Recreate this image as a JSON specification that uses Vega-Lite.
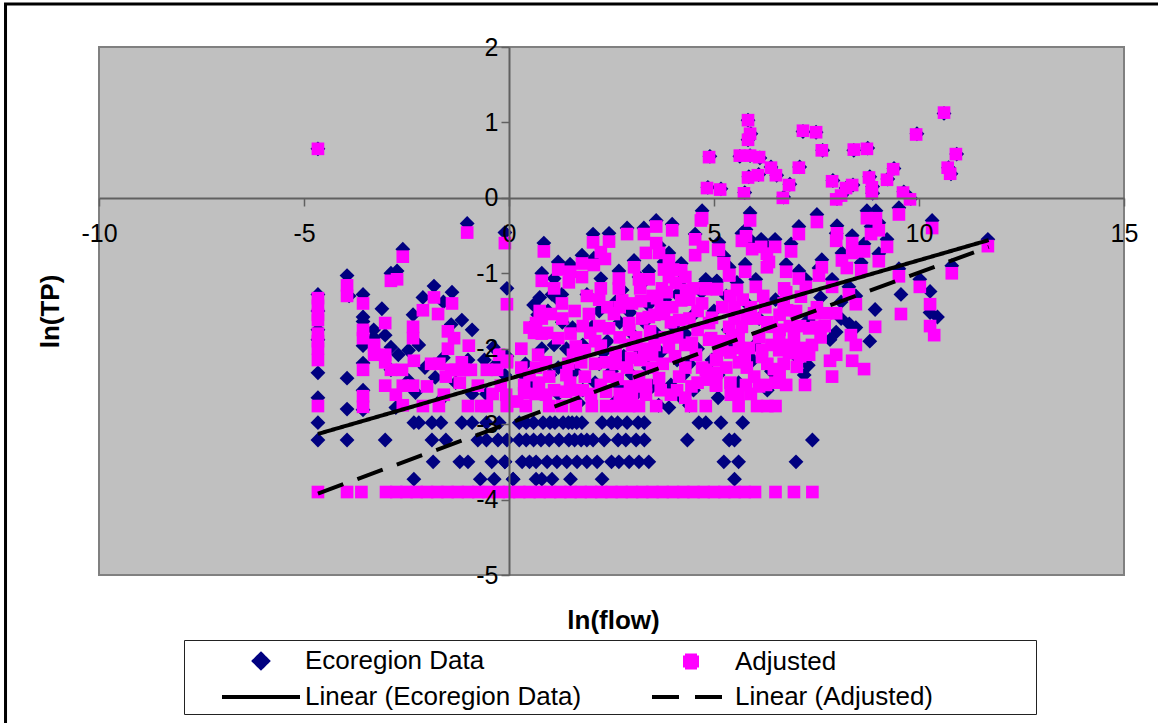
{
"$schema":"https://vega.github.io/schema/vega-lite/v6.json",
"width":1025,"height":528,
"autosize":"none",
"padding":{"left":99,"top":47,"right":34,"bottom":148},
"background":"white",
"config":{"font":"Liberation Sans","view":{"fill":"#C0C0C0","stroke":"#808080","strokeWidth":2}},
"datasets":{
"frame":[{"x1":-12.28,"x2":17,"y1":2.57,"y2":-8}],
"fit":[
{"series":"Linear (Ecoregion Data)","x":-4.66,"y":-3.13},{"series":"Linear (Ecoregion Data)","x":11.7,"y":-0.56},
{"series":"Linear (Adjusted)","x":-4.66,"y":-3.92},{"series":"Linear (Adjusted)","x":11.7,"y":-0.65}],
"eco":[
{"x":-4.66,"y":-1.28},{"x":-4.66,"y":-1.5},{"x":-4.66,"y":-1.75},{"x":-4.66,"y":-1.88},{"x":-4.66,"y":-2.32},{"x":-4.66,"y":-2.65},{"x":-4.66,"y":-2.98},{"x":-4.66,"y":-3.21},{"x":-4.66,"y":0.65},
{"x":-3.95,"y":-1.03},{"x":-3.9,"y":-1.3},{"x":-3.95,"y":-2.39},{"x":-3.95,"y":-2.8},{"x":-3.95,"y":-3.21},
{"x":-3.56,"y":-1.28},{"x":-3.56,"y":-1.58},{"x":-3.56,"y":-1.64},{"x":-3.56,"y":-1.96},{"x":-3.56,"y":-2.19},{"x":-3.56,"y":-2.55},{"x":-3.56,"y":-2.81},
{"x":-3.3,"y":-1.75},{"x":-3.3,"y":-1.85},{"x":-3.1,"y":-1.47},{"x":-3.02,"y":-1.82},{"x":-2.88,"y":-1.98},{"x":-2.7,"y":-2.08},{"x":-2.88,"y":-2.28},{"x":-2.45,"y":-2.02},
{"x":-2.59,"y":-0.68},{"x":-2.73,"y":-0.97},{"x":-2.88,"y":-1.0},{"x":-2.45,"y":-2.42},{"x":-2.34,"y":-1.55},{"x":-2.2,"y":-1.95},{"x":-2.05,"y":-2.25},{"x":-2.28,"y":-2.58},{"x":-2.76,"y":-2.78},
{"x":-2.32,"y":-2.98},{"x":-2.2,"y":-2.98},{"x":-1.88,"y":-2.98},{"x":-1.66,"y":-2.98},{"x":-1.15,"y":-2.98},{"x":-0.9,"y":-2.98},{"x":-0.55,"y":-2.98},{"x":-0.24,"y":-2.98},
{"x":-3.02,"y":-3.21},{"x":-1.88,"y":-3.21},{"x":-1.54,"y":-3.21},{"x":-0.76,"y":-3.21},{"x":-0.55,"y":-3.21},{"x":-0.27,"y":-3.21},{"x":-0.05,"y":-3.21},
{"x":-1.85,"y":-3.5},{"x":-1.2,"y":-3.5},{"x":-1.0,"y":-3.5},{"x":-0.42,"y":-3.5},{"x":-0.1,"y":-3.5},{"x":-2.32,"y":-3.73},{"x":-0.7,"y":-3.73},{"x":-0.36,"y":-3.73},{"x":0.1,"y":-3.73},
{"x":-1.83,"y":-1.17},{"x":-1.39,"y":-1.25},{"x":-2.1,"y":-1.32},{"x":-1.6,"y":-1.38},{"x":-1.15,"y":-1.62},{"x":-1.41,"y":-1.68},{"x":-0.9,"y":-1.75},{"x":-0.38,"y":-1.98},{"x":-0.05,"y":-2.1},{"x":-0.6,"y":-2.15},{"x":-1.6,"y":-2.12},{"x":-1.8,"y":-2.38},{"x":-1.0,"y":-2.15},{"x":-0.3,"y":-2.2},{"x":-1.3,"y":-2.45},{"x":-0.9,"y":-2.6},{"x":-0.55,"y":-2.6},{"x":-0.1,"y":-2.35},{"x":-1.7,"y":-2.7},
{"x":-1.02,"y":-0.34},{"x":-0.1,"y":-0.46},{"x":-0.05,"y":-1.2},
{"x":0.25,"y":-2.98},{"x":0.42,"y":-2.98},{"x":0.6,"y":-2.98},{"x":0.83,"y":-2.98},{"x":1.0,"y":-2.98},{"x":1.12,"y":-2.98},{"x":1.32,"y":-2.98},{"x":1.45,"y":-2.98},{"x":1.54,"y":-2.98},{"x":1.65,"y":-2.98},{"x":1.78,"y":-2.98},{"x":2.27,"y":-2.98},{"x":2.5,"y":-2.98},{"x":2.65,"y":-2.98},{"x":2.88,"y":-2.98},{"x":3.15,"y":-2.98},{"x":3.3,"y":-2.98},{"x":4.63,"y":-2.98},{"x":4.8,"y":-2.98},{"x":5.17,"y":-2.98},
{"x":0.25,"y":-3.21},{"x":0.42,"y":-3.21},{"x":0.78,"y":-3.21},{"x":0.98,"y":-3.21},{"x":1.22,"y":-3.21},{"x":1.46,"y":-3.21},{"x":1.76,"y":-3.21},{"x":2.05,"y":-3.21},{"x":2.32,"y":-3.21},{"x":2.66,"y":-3.21},{"x":2.85,"y":-3.21},{"x":3.1,"y":-3.21},{"x":3.3,"y":-3.21},{"x":4.35,"y":-3.21},{"x":5.37,"y":-3.21},{"x":0.6,"y":-3.21},{"x":1.6,"y":-3.21},{"x":1.9,"y":-3.21},{"x":5.5,"y":-3.21},
{"x":-0.1,"y":-3.5},{"x":0.32,"y":-3.5},{"x":0.5,"y":-3.5},{"x":0.66,"y":-3.5},{"x":0.93,"y":-3.5},{"x":1.17,"y":-3.5},{"x":1.41,"y":-3.5},{"x":1.66,"y":-3.5},{"x":1.9,"y":-3.5},{"x":2.15,"y":-3.5},{"x":2.5,"y":-3.5},{"x":2.68,"y":-3.5},{"x":2.93,"y":-3.5},{"x":3.17,"y":-3.5},{"x":3.41,"y":-3.5},{"x":5.24,"y":-3.5},{"x":5.6,"y":-3.5},{"x":7.0,"y":-3.5},
{"x":0.1,"y":-3.73},{"x":0.66,"y":-3.73},{"x":0.8,"y":-3.73},{"x":1.05,"y":-3.73},{"x":1.5,"y":-3.73},{"x":2.27,"y":-3.73},{"x":5.5,"y":-3.73},{"x":7.4,"y":-3.21},{"x":5.7,"y":-2.98},
{"x":0.85,"y":-0.6},{"x":2.05,"y":-0.48},{"x":2.44,"y":-0.47},{"x":1.78,"y":-0.76},{"x":2.07,"y":-0.8},{"x":1.2,"y":-0.85},{"x":1.49,"y":-0.88},{"x":0.8,"y":-1.0},{"x":1.1,"y":-1.07},{"x":2.24,"y":-1.07},{"x":2.68,"y":-0.97},{"x":3.05,"y":-0.83},{"x":3.59,"y":-0.3},{"x":3.98,"y":-0.35},{"x":2.88,"y":-0.4},{"x":3.29,"y":-0.4},{"x":4.54,"y":-0.48},{"x":3.66,"y":-0.63},{"x":3.9,"y":-0.73},{"x":4.2,"y":-0.87},{"x":3.41,"y":-0.97},{"x":3.17,"y":-1.05},{"x":4.8,"y":-1.08},{"x":5.07,"y":-1.1},{"x":3.78,"y":-0.85},
{"x":0.75,"y":-1.32},{"x":0.6,"y":-1.42},{"x":1.05,"y":-1.28},{"x":1.2,"y":-1.35},{"x":1.29,"y":-1.28},{"x":0.95,"y":-1.5},{"x":0.7,"y":-1.55},{"x":1.3,"y":-1.65},{"x":0.6,"y":-1.68},{"x":0.4,"y":-2.2},{"x":0.35,"y":-2.35},{"x":1.1,"y":-1.95},{"x":1.2,"y":-2.25},{"x":1.55,"y":-1.72},{"x":1.9,"y":-1.28},{"x":2.6,"y":-1.38},{"x":2.76,"y":-1.22},{"x":3.22,"y":-1.15},{"x":2.95,"y":-1.52},{"x":3.0,"y":-1.8},{"x":3.4,"y":-1.42},{"x":4.1,"y":-1.28},{"x":4.7,"y":-1.25},{"x":4.3,"y":-1.8},{"x":2.3,"y":-2.05},{"x":2.2,"y":-2.2},{"x":2.5,"y":-2.3},{"x":2.1,"y":-2.45},{"x":1.6,"y":-2.3},{"x":1.2,"y":-2.6},{"x":1.7,"y":-2.72},{"x":3.2,"y":-2.05},{"x":3.4,"y":-2.25},{"x":3.7,"y":-2.05},{"x":4.1,"y":-2.15},{"x":4.25,"y":-2.35},{"x":4.4,"y":-2.2},{"x":3.95,"y":-2.48},{"x":2.7,"y":-2.5},{"x":3.65,"y":-2.75},{"x":4.15,"y":-2.62},{"x":4.95,"y":-2.15},{"x":5.1,"y":-2.35},{"x":5.2,"y":-2.0},{"x":3.9,"y":-2.78},
{"x":2.05,"y":-1.7},{"x":2.2,"y":-1.5},{"x":2.4,"y":-1.9},{"x":2.7,"y":-1.65},{"x":2.8,"y":-2.1},{"x":3.0,"y":-2.35},{"x":3.3,"y":-1.65},{"x":3.6,"y":-1.8},{"x":3.8,"y":-1.35},{"x":4.0,"y":-1.7},{"x":4.5,"y":-1.55},{"x":4.6,"y":-2.0},{"x":1.8,"y":-1.95},{"x":1.4,"y":-2.0},{"x":0.8,"y":-2.0},{"x":0.55,"y":-2.5},{"x":1.0,"y":-2.35},{"x":1.8,"y":-2.55},{"x":2.6,"y":-2.7},{"x":3.1,"y":-2.6},{"x":3.5,"y":-2.5},{"x":4.5,"y":-2.55},{"x":4.4,"y":-2.75},{"x":5.3,"y":-1.3},{"x":4.2,"y":-1.1},
{"x":4.71,"y":-0.17},{"x":5.88,"y":-0.2},{"x":7.51,"y":-0.22},{"x":9.51,"y":-0.13},{"x":8.73,"y":-0.17},{"x":8.95,"y":-0.17},{"x":10.32,"y":-0.3},{"x":9.02,"y":-0.33},{"x":8.83,"y":-0.38},{"x":7.07,"y":-0.38},{"x":8.0,"y":-0.37},{"x":7.98,"y":-0.47},{"x":5.78,"y":-0.42},{"x":5.68,"y":-0.47},{"x":8.37,"y":-0.5},{"x":9.22,"y":-0.55},{"x":11.68,"y":-0.55},{"x":6.49,"y":-0.55},{"x":6.15,"y":-0.55},{"x":5.93,"y":-0.58},{"x":6.88,"y":-0.61},{"x":5.12,"y":-0.59},{"x":8.66,"y":-0.61},{"x":6.29,"y":-0.64},{"x":8.12,"y":-0.73},{"x":8.59,"y":-0.86},{"x":9.02,"y":-0.74},{"x":5.24,"y":-0.77},{"x":5.37,"y":-0.92},{"x":5.76,"y":-0.88},{"x":6.76,"y":-0.88},{"x":7.63,"y":-0.82},{"x":7.56,"y":-0.93},{"x":9.51,"y":-0.94},{"x":10.8,"y":-0.9},{"x":10.02,"y":-1.08},{"x":7.07,"y":-0.97},{"x":7.24,"y":-1.08},{"x":7.88,"y":-1.08},{"x":4.8,"y":-1.11},{"x":5.07,"y":-1.11},{"x":5.56,"y":-1.12},{"x":6.02,"y":-1.08},{"x":8.29,"y":-1.18},{"x":8.46,"y":-1.3},{"x":10.27,"y":-1.24},{"x":9.56,"y":-1.28},{"x":8.93,"y":-1.48},{"x":10.27,"y":-1.52},{"x":10.45,"y":-1.58},{"x":8.1,"y":-1.6},{"x":8.3,"y":-1.67},{"x":8.46,"y":-1.72},{"x":7.83,"y":-1.88},{"x":7.98,"y":-1.78},{"x":8.8,"y":-1.9},{"x":6.5,"y":-1.35},{"x":6.95,"y":-1.7},{"x":7.3,"y":-1.62},{"x":7.6,"y":-1.32},{"x":8.1,"y":-1.38},{"x":6.1,"y":-1.6},{"x":5.8,"y":-1.4},{"x":5.35,"y":-1.75},{"x":5.0,"y":-1.5},{"x":7.3,"y":-2.22},{"x":5.95,"y":-2.15},{"x":6.4,"y":-2.3},{"x":5.6,"y":-2.45},{"x":5.1,"y":-2.65},{"x":6.3,"y":-2.55},{"x":7.2,"y":-2.35},{"x":5.5,"y":-1.95},{"x":6.7,"y":-1.95},{"x":7.0,"y":-2.1},{"x":6.0,"y":-1.95},
{"x":10.61,"y":1.12},{"x":5.83,"y":1.03},{"x":5.9,"y":0.85},{"x":5.83,"y":0.77},{"x":7.17,"y":0.88},{"x":7.49,"y":0.87},{"x":9.95,"y":0.85},{"x":7.65,"y":0.63},{"x":8.41,"y":0.63},{"x":8.75,"y":0.66},{"x":4.9,"y":0.55},{"x":5.63,"y":0.55},{"x":5.88,"y":0.56},{"x":6.12,"y":0.53},{"x":10.92,"y":0.58},{"x":10.72,"y":0.4},{"x":10.78,"y":0.32},{"x":6.39,"y":0.41},{"x":7.09,"y":0.41},{"x":9.39,"y":0.39},{"x":5.85,"y":0.28},{"x":6.09,"y":0.31},{"x":6.53,"y":0.3},{"x":6.85,"y":0.18},{"x":7.9,"y":0.23},{"x":8.8,"y":0.28},{"x":9.24,"y":0.25},{"x":8.39,"y":0.17},{"x":8.22,"y":0.13},{"x":8.87,"y":0.15},{"x":8.87,"y":0.06},{"x":4.85,"y":0.14},{"x":5.17,"y":0.12},{"x":5.75,"y":0.07},{"x":9.63,"y":0.08},{"x":9.8,"y":-0.01},{"x":8.0,"y":-0.01},{"x":8.12,"y":0.04},{"x":6.7,"y":0.01}
],
"adj":[
{"x":-4.66,"y":0.65},{"x":-4.66,"y":-1.33},{"x":-4.66,"y":-1.43},{"x":-4.66,"y":-1.55},{"x":-4.66,"y":-1.62},{"x":-4.66,"y":-1.8},{"x":-4.66,"y":-1.9},{"x":-4.66,"y":-2.0},{"x":-4.66,"y":-2.15},{"x":-4.66,"y":-2.76},{"x":-4.66,"y":-3.9},
{"x":-3.95,"y":-1.16},{"x":-3.95,"y":-1.3},{"x":-3.95,"y":-3.9},{"x":-3.56,"y":-1.4},{"x":-3.56,"y":-1.75},{"x":-3.56,"y":-1.86},{"x":-3.56,"y":-2.28},{"x":-3.56,"y":-2.63},{"x":-3.56,"y":-2.77},{"x":-3.6,"y":-3.9},
{"x":-1.02,"y":-0.46},{"x":-0.1,"y":-0.6},{"x":-2.59,"y":-0.78},{"x":-2.73,"y":-1.08},{"x":-2.88,"y":-1.1},{"x":-1.83,"y":-1.32},{"x":-1.39,"y":-1.4},{"x":-2.1,"y":-1.49},{"x":-1.73,"y":-1.54},{"x":-3.02,"y":-1.66},{"x":-2.34,"y":-1.71},{"x":-2.34,"y":-1.86},{"x":-1.49,"y":-1.77},{"x":-1.34,"y":-1.86},{"x":-1.49,"y":-2.0},{"x":-0.98,"y":-1.96},{"x":-0.24,"y":-2.08},{"x":-0.05,"y":-2.16},{"x":-3.29,"y":-1.95},{"x":-3.29,"y":-2.08},{"x":-3.02,"y":-2.08},{"x":-3.02,"y":-2.18},{"x":-2.32,"y":-2.16},{"x":-2.88,"y":-2.28},{"x":-2.61,"y":-2.28},{"x":-1.41,"y":-2.28},{"x":-1.15,"y":-2.18},{"x":-0.93,"y":-2.28},{"x":-0.54,"y":-2.28},{"x":-0.29,"y":-2.28},{"x":-1.54,"y":-2.37},{"x":-1.3,"y":-2.28},{"x":-1.1,"y":-2.28},{"x":-3.02,"y":-2.49},{"x":-2.59,"y":-2.49},{"x":-2.34,"y":-2.49},{"x":-0.76,"y":-2.49},{"x":-0.2,"y":-2.49},{"x":-2.76,"y":-2.61},{"x":-1.59,"y":-2.61},{"x":-2.59,"y":-2.75},{"x":-2.1,"y":-2.76},{"x":-1.71,"y":-2.76},{"x":-1.0,"y":-2.76},{"x":-0.68,"y":-2.76},{"x":-0.54,"y":-2.76},{"x":-0.05,"y":-2.75},
{"x":3.59,"y":-0.38},{"x":4.68,"y":-0.3},{"x":3.98,"y":-0.43},{"x":2.88,"y":-0.48},{"x":3.29,"y":-0.48},{"x":4.54,"y":-0.55},{"x":0.85,"y":-0.71},{"x":2.05,"y":-0.59},{"x":2.44,"y":-0.58},{"x":3.59,"y":-0.6},{"x":4.73,"y":-0.65},{"x":3.34,"y":-0.73},{"x":3.66,"y":-0.73},{"x":5.1,"y":-0.69},{"x":2.24,"y":-0.72},{"x":4.54,"y":-0.76},{"x":2.34,"y":-0.81},{"x":5.24,"y":-0.87},{"x":3.9,"y":-0.83},{"x":1.78,"y":-0.87},{"x":2.07,"y":-0.89},{"x":3.05,"y":-0.92},{"x":1.2,"y":-0.95},{"x":1.49,"y":-0.98},{"x":3.78,"y":-0.95},{"x":4.2,"y":-0.96},{"x":1.78,"y":-1.05},{"x":0.8,"y":-1.1},{"x":1.46,"y":-1.12},{"x":1.1,"y":-1.2},{"x":2.24,"y":-1.2},{"x":2.68,"y":-1.07},{"x":3.17,"y":-1.08},{"x":3.41,"y":-1.08},{"x":2.68,"y":-1.2},{"x":3.73,"y":-1.2},{"x":4.07,"y":-1.13},{"x":4.32,"y":-1.22},{"x":4.8,"y":-1.2},{"x":5.07,"y":-1.21},{"x":5.37,"y":-1.03},{"x":3.9,"y":-1.05},{"x":4.0,"y":-0.95},{"x":4.3,"y":-1.05},
{"x":1.29,"y":-1.4},{"x":-0.05,"y":-1.41},{"x":2.76,"y":-1.36},{"x":3.22,"y":-1.37},{"x":3.61,"y":-1.33},{"x":4.2,"y":-1.36},{"x":4.71,"y":-1.4},{"x":3.98,"y":-1.45},{"x":1.95,"y":-1.54},{"x":2.56,"y":-1.54},{"x":3.41,"y":-1.58},{"x":1.02,"y":-1.54},{"x":0.66,"y":-1.66},{"x":2.93,"y":-1.66},{"x":4.15,"y":-1.62},{"x":3.78,"y":-1.54},{"x":4.95,"y":-1.59},{"x":0.61,"y":-1.79},{"x":0.93,"y":-1.79},{"x":2.44,"y":-1.73},{"x":1.98,"y":-1.79},{"x":2.93,"y":-1.75},{"x":3.44,"y":-1.77},{"x":1.2,"y":-1.86},{"x":4.88,"y":-1.88},{"x":2.24,"y":-1.96},{"x":1.63,"y":-1.97},{"x":4.46,"y":-1.92},{"x":3.0,"y":-1.95},{"x":3.9,"y":-1.98},{"x":0.71,"y":-2.08},{"x":3.49,"y":-2.08},{"x":4.56,"y":-2.08},{"x":5.07,"y":-2.15},{"x":1.56,"y":-2.08},{"x":1.76,"y":-2.18},{"x":2.37,"y":-2.18},{"x":2.98,"y":-2.12},{"x":0.9,"y":-2.18},{"x":-0.05,"y":-2.18},{"x":0.66,"y":-2.25},{"x":2.88,"y":-2.25},{"x":3.49,"y":-2.25},{"x":4.71,"y":-2.25},{"x":5.07,"y":-2.32},{"x":1.85,"y":-2.37},{"x":2.44,"y":-2.37},{"x":0.98,"y":-2.37},{"x":3.17,"y":-2.37},{"x":4.83,"y":-2.39},{"x":4.15,"y":-2.37},{"x":3.66,"y":-2.39},{"x":0.73,"y":-2.45},{"x":1.49,"y":-2.45},{"x":2.24,"y":-2.48},{"x":5.05,"y":-2.49},{"x":3.34,"y":-2.48},{"x":0.37,"y":-2.48},{"x":-0.07,"y":-2.61},{"x":0.37,"y":-2.59},{"x":0.9,"y":-2.61},{"x":1.39,"y":-2.57},{"x":2.37,"y":-2.57},{"x":3.0,"y":-2.61},{"x":3.95,"y":-2.61},{"x":3.34,"y":-2.61},{"x":5.41,"y":-2.61},
{"x":3.2,"y":-1.2},{"x":3.5,"y":-1.3},{"x":3.85,"y":-1.25},{"x":3.7,"y":-1.45},{"x":4.4,"y":-1.35},{"x":4.5,"y":-1.2},{"x":3.25,"y":-1.6},{"x":3.55,"y":-1.55},{"x":3.95,"y":-1.65},{"x":4.4,"y":-1.6},{"x":0.75,"y":-1.5},{"x":0.8,"y":-1.6},{"x":0.5,"y":-1.72},{"x":0.8,"y":-1.8},{"x":2.7,"y":-1.85},{"x":2.1,"y":-1.9},{"x":1.85,"y":-2.02},{"x":1.45,"y":-2.2},{"x":2.6,"y":-2.05},{"x":3.2,"y":-2.15},{"x":3.55,"y":-1.95},{"x":3.75,"y":-2.2},{"x":4.05,"y":-2.1},{"x":4.3,"y":-2.25},{"x":2.65,"y":-2.4},{"x":2.95,"y":-2.5},{"x":4.45,"y":-2.5},{"x":1.1,"y":-2.55},{"x":2.7,"y":-2.6},{"x":4.1,"y":-2.55},{"x":4.6,"y":-1.75},{"x":5.4,"y":-1.3},{"x":5.7,"y":-1.35},{"x":6.25,"y":-1.45},{"x":6.6,"y":-1.55},{"x":6.1,"y":-1.85},{"x":6.6,"y":-1.75},{"x":6.85,"y":-1.7},{"x":5.6,"y":-1.85},{"x":5.2,"y":-1.9},{"x":5.4,"y":-2.05},{"x":5.75,"y":-2.1},{"x":6.4,"y":-1.95},{"x":6.85,"y":-1.95},{"x":7.05,"y":-2.0},{"x":6.7,"y":-2.2},{"x":6.3,"y":-2.2},{"x":7.1,"y":-2.1},
{"x":1.3,"y":-1.6},{"x":1.6,"y":-1.5},{"x":1.9,"y":-1.3},{"x":2.2,"y":-1.35},{"x":2.4,"y":-1.45},{"x":1.5,"y":-1.8},{"x":1.8,"y":-1.7},{"x":2.2,"y":-1.7},{"x":1.4,"y":-2.35},{"x":1.8,"y":-2.55},{"x":2.1,"y":-2.2},{"x":2.6,"y":-2.2},{"x":2.7,"y":-1.45},{"x":3.0,"y":-1.4},{"x":3.1,"y":-1.85},{"x":3.3,"y":-2.0},{"x":3.2,"y":-2.5},{"x":3.7,"y":-2.55},{"x":3.8,"y":-1.85},{"x":4.1,"y":-1.85},{"x":4.3,"y":-1.95},{"x":4.3,"y":-2.65},{"x":4.6,"y":-1.5},{"x":4.6,"y":-2.45},{"x":5.3,"y":-2.25},{"x":5.4,"y":-2.45},{"x":5.6,"y":-2.6},{"x":5.8,"y":-2.25},{"x":6.1,"y":-2.5},{"x":6.5,"y":-2.45},{"x":6.6,"y":-2.35},{"x":5.5,"y":-1.6},{"x":5.8,"y":-1.6},{"x":6.3,"y":-1.65},{"x":6.7,"y":-1.4},{"x":7.0,"y":-1.5},{"x":7.1,"y":-1.7},{"x":7.7,"y":-1.7},{"x":7.6,"y":-1.85},{"x":0.5,"y":-2.35},{"x":0.3,"y":-2.25},{"x":0.3,"y":-2.0},{"x":0.2,"y":-2.7},{"x":0.65,"y":-2.6},{"x":1.6,"y":-2.55},{"x":2.0,"y":-2.6},{"x":-0.4,"y":-2.6},{"x":-1.2,"y":-2.45},{"x":-2.0,"y":-2.5},{"x":-1.9,"y":-2.2},{"x":-1.7,"y":-2.2},
{"x":-0.05,"y":-2.76},{"x":0.41,"y":-2.76},{"x":0.98,"y":-2.76},{"x":1.29,"y":-2.76},{"x":1.63,"y":-2.76},{"x":2.02,"y":-2.76},{"x":2.37,"y":-2.76},{"x":2.63,"y":-2.76},{"x":2.93,"y":-2.76},{"x":3.17,"y":-2.76},{"x":3.59,"y":-2.76},{"x":4.44,"y":-2.76},{"x":4.8,"y":-2.76},{"x":5.6,"y":-2.76},{"x":6.05,"y":-2.76},{"x":6.3,"y":-2.76},{"x":6.5,"y":-2.76},{"x":5.9,"y":-2.6},
{"x":10.61,"y":1.13},{"x":5.83,"y":1.03},{"x":5.88,"y":0.85},{"x":5.83,"y":0.77},{"x":7.17,"y":0.89},{"x":7.49,"y":0.87},{"x":9.93,"y":0.84},{"x":7.63,"y":0.63},{"x":8.41,"y":0.64},{"x":8.73,"y":0.65},{"x":4.88,"y":0.54},{"x":5.63,"y":0.56},{"x":5.88,"y":0.56},{"x":6.1,"y":0.54},{"x":10.9,"y":0.58},{"x":10.7,"y":0.4},{"x":10.76,"y":0.32},{"x":6.39,"y":0.4},{"x":7.07,"y":0.4},{"x":9.37,"y":0.38},{"x":5.83,"y":0.27},{"x":6.07,"y":0.3},{"x":6.51,"y":0.3},{"x":6.83,"y":0.17},{"x":7.88,"y":0.22},{"x":8.78,"y":0.27},{"x":9.22,"y":0.24},{"x":8.37,"y":0.17},{"x":8.22,"y":0.13},{"x":8.85,"y":0.14},{"x":8.85,"y":0.06},{"x":4.83,"y":0.13},{"x":5.15,"y":0.11},{"x":5.73,"y":0.06},{"x":9.61,"y":0.07},{"x":9.78,"y":-0.02},{"x":7.98,"y":-0.02},{"x":8.1,"y":0.03},{"x":6.68,"y":0.0},
{"x":4.71,"y":-0.27},{"x":5.88,"y":-0.3},{"x":7.51,"y":-0.32},{"x":9.51,"y":-0.22},{"x":8.73,"y":-0.27},{"x":8.95,"y":-0.27},{"x":10.32,"y":-0.4},{"x":9.02,"y":-0.43},{"x":8.83,"y":-0.48},{"x":7.07,"y":-0.48},{"x":8.0,"y":-0.47},{"x":7.98,"y":-0.57},{"x":5.78,"y":-0.51},{"x":5.68,"y":-0.57},{"x":8.37,"y":-0.6},{"x":9.22,"y":-0.65},{"x":11.68,"y":-0.64},{"x":6.49,"y":-0.65},{"x":6.15,"y":-0.65},{"x":5.93,"y":-0.68},{"x":6.88,"y":-0.71},{"x":5.12,"y":-0.69},{"x":8.37,"y":-0.73},{"x":8.66,"y":-0.71},{"x":6.29,"y":-0.74},{"x":6.34,"y":-0.85},{"x":6.29,"y":-0.92},{"x":8.12,"y":-0.83},{"x":8.24,"y":-0.93},{"x":8.59,"y":-0.96},{"x":9.02,"y":-0.84},{"x":5.24,"y":-0.87},{"x":5.37,"y":-1.02},{"x":5.76,"y":-0.98},{"x":6.76,"y":-0.98},{"x":7.63,"y":-0.92},{"x":7.56,"y":-1.03},{"x":9.51,"y":-1.04},{"x":10.8,"y":-1.0},{"x":10.02,"y":-1.18},{"x":7.07,"y":-1.07},{"x":7.24,"y":-1.18},{"x":7.88,"y":-1.18},{"x":6.71,"y":-1.2},{"x":6.76,"y":-1.25},{"x":4.8,"y":-1.21},{"x":5.07,"y":-1.21},{"x":5.56,"y":-1.22},{"x":6.02,"y":-1.18},{"x":7.12,"y":-1.31},{"x":8.29,"y":-1.28},{"x":8.46,"y":-1.41},{"x":10.27,"y":-1.41},{"x":9.56,"y":-1.54},{"x":8.93,"y":-1.71},{"x":10.27,"y":-1.7},{"x":10.37,"y":-1.82},{"x":8.34,"y":-1.82},{"x":8.46,"y":-1.95},{"x":7.98,"y":-2.08},{"x":7.83,"y":-2.16},{"x":8.37,"y":-2.16},{"x":8.66,"y":-2.27},{"x":7.88,"y":-2.37},{"x":7.22,"y":-2.48},{"x":6.76,"y":-2.48},{"x":7.51,"y":-1.45},{"x":7.73,"y":-1.53},{"x":7.98,"y":-1.53},{"x":7.44,"y":-1.53},{"x":6.78,"y":-1.49},{"x":6.41,"y":-1.71},{"x":7.32,"y":-1.73},{"x":7.49,"y":-1.71},{"x":5.68,"y":-1.71},{"x":5.44,"y":-1.82},{"x":6.59,"y":-1.86},{"x":6.95,"y":-1.86},{"x":7.39,"y":-1.95},{"x":7.2,"y":-1.99},{"x":7.32,"y":-2.08},{"x":6.59,"y":-2.02},{"x":6.17,"y":-2.02},{"x":5.85,"y":-1.99},{"x":5.61,"y":-1.99},{"x":5.61,"y":-2.18},{"x":6.17,"y":-2.11},{"x":6.83,"y":-2.06},{"x":7.02,"y":-2.24},{"x":6.46,"y":-2.27},{"x":5.98,"y":-2.37},{"x":5.78,"y":-2.48},{"x":6.27,"y":-2.48},{"x":5.05,"y":-2.48},{"x":5.05,"y":-2.15},{"x":4.8,"y":-2.28},{"x":4.83,"y":-2.41},{"x":5.12,"y":-2.02},{"x":4.93,"y":-1.86},{"x":4.88,"y":-1.66},{"x":5.37,"y":-1.71},{"x":5.2,"y":-1.45},{"x":5.9,"y":-1.45},{"x":6.2,"y":-1.3},{"x":6.0,"y":-1.6},{"x":5.5,"y":-1.45},
{"x":-3.0,"y":-3.9},{"x":-2.75,"y":-3.9},{"x":-2.5,"y":-3.9},{"x":-2.25,"y":-3.9},{"x":-2.0,"y":-3.9},{"x":-1.75,"y":-3.9},{"x":-1.5,"y":-3.9},{"x":-1.25,"y":-3.9},{"x":-1.0,"y":-3.9},{"x":-0.75,"y":-3.9},{"x":-0.5,"y":-3.9},{"x":-0.25,"y":-3.9},{"x":0.0,"y":-3.9},{"x":0.25,"y":-3.9},{"x":0.5,"y":-3.9},{"x":0.75,"y":-3.9},{"x":1.0,"y":-3.9},{"x":1.25,"y":-3.9},{"x":1.5,"y":-3.9},{"x":1.75,"y":-3.9},{"x":2.0,"y":-3.9},{"x":2.25,"y":-3.9},{"x":2.5,"y":-3.9},{"x":2.75,"y":-3.9},{"x":3.0,"y":-3.9},{"x":3.25,"y":-3.9},{"x":3.5,"y":-3.9},{"x":3.75,"y":-3.9},{"x":4.0,"y":-3.9},{"x":4.25,"y":-3.9},{"x":4.5,"y":-3.9},{"x":4.75,"y":-3.9},{"x":5.0,"y":-3.9},{"x":5.25,"y":-3.9},{"x":5.5,"y":-3.9},{"x":5.75,"y":-3.9},{"x":6.0,"y":-3.9},{"x":6.5,"y":-3.9},{"x":6.95,"y":-3.9},{"x":7.4,"y":-3.9}
]},
"layer":[
{"data":{"name":"frame"},"mark":{"type":"rect","fill":null,"stroke":"black","strokeWidth":3,"clip":false},
"encoding":{"x":{"field":"x1","type":"quantitative","scale":{"domain":[-10,15],"nice":false,"zero":false},"axis":{"values":[-10,-5,0,5,10,15],"labelExpr":"''+datum.value","orient":"bottom","offset":-377,"title":"ln(flow)","titleFontSize":26,"titleFontWeight":"bold","titleX":514,"titleY":409,"grid":false,"domainColor":"#606060","domainWidth":2,"tickColor":"#606060","tickSize":8,"tickWidth":1.5,"labelColor":"black","labelFontSize":25,"labelPadding":15,"labelFlush":false,"zindex":1}},"x2":{"field":"x2"},
"y":{"field":"y1","type":"quantitative","scale":{"domain":[-5,2],"nice":false,"zero":false},"axis":{"values":[-5,-4,-3,-2,-1,0,1,2],"labelExpr":"''+datum.value","orient":"left","offset":-410,"title":"ln(TP)","titleFontSize":26,"titleFontWeight":"bold","titleX":-446,"titleY":264,"grid":false,"domainColor":"#606060","domainWidth":2,"tickColor":"#606060","tickSize":8,"tickWidth":1.5,"labelColor":"black","labelFontSize":25,"labelPadding":3,"labelFlush":false,"zindex":1}},"y2":{"field":"y2"}}},
{"data":{"name":"eco"},"transform":[{"calculate":"'Ecoregion Data'","as":"series"}],"mark":{"type":"point","filled":true,"size":220,"opacity":1,"clip":false,"shape":"diamond"},
"encoding":{"x":{"field":"x","type":"quantitative"},"y":{"field":"y","type":"quantitative"},
"color":{"field":"series","type":"nominal","scale":{"domain":["Ecoregion Data","Linear (Ecoregion Data)","Adjusted","Linear (Adjusted)"],"range":["#000080","#000000","#FF00FF","#000000"]},
"legend":{"title":"\u00a0","titleOrient":"right","titleFontSize":10,"titlePadding":99,"orient":"none","legendX":85,"legendY":593,"columns":2,"fillColor":"white","strokeColor":"#222222","padding":4,"labelFontSize":26,"labelColor":"black","labelOffset":27,"labelLimit":500,"symbolSize":900,"symbolOffset":56,"columnPadding":36,"rowPadding":4,"gridAlign":"all",
"encoding":{"symbols":{"shape":{"value":{"expr":"datum.value==='Ecoregion Data'?'M0,-0.466L0.466,0L0,0.466L-0.466,0Z':datum.value==='Adjusted'?'M-0.4,-0.4L0.4,-0.4L0.4,0.4L-0.4,0.4Z':'M-2.6,0L2.6,0'"}},"size":{"value":900},"fill":{"value":{"expr":"datum.value==='Ecoregion Data'?'#000080':datum.value==='Adjusted'?'#FF00FF':'transparent'"}},"stroke":{"value":{"expr":"datum.value==='Linear (Ecoregion Data)'||datum.value==='Linear (Adjusted)'?'black':'transparent'"}},"strokeWidth":{"value":4},"strokeDash":{"value":{"expr":"datum.value==='Linear (Adjusted)'?[27,16]:[1,0]"}},"opacity":{"value":1}}}}}}},
{"data":{"name":"adj"},"transform":[{"calculate":"'Adjusted'","as":"series"}],"mark":{"type":"point","filled":true,"size":160,"opacity":1,"shape":"square","clip":false},
"encoding":{"x":{"field":"x","type":"quantitative"},"y":{"field":"y","type":"quantitative"},"color":{"field":"series","type":"nominal"}}},
{"data":{"name":"fit"},"mark":{"type":"line","strokeWidth":4,"clip":false},
"encoding":{"x":{"field":"x","type":"quantitative"},"y":{"field":"y","type":"quantitative"},"color":{"field":"series","type":"nominal"},"strokeDash":{"field":"series","type":"nominal","scale":{"domain":["Linear (Ecoregion Data)","Linear (Adjusted)"],"range":[[1,0],[27,15]]},"legend":null}}}
],
"resolve":{"scale":{"color":"shared"}}
}
